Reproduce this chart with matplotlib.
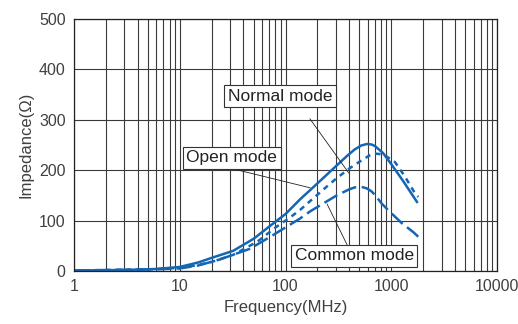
import matplotlib
matplotlib.use("Agg")
import matplotlib.pyplot as plt
from matplotlib.ticker import LogLocator, NullFormatter, FixedLocator

plt.rcParams['font.family'] = ['Liberation Sans', 'DejaVu Sans']

# frequency (MHz) / impedance (ohm)
open_f = [1, 3, 6, 10, 15, 20, 32, 50, 74, 100, 137, 170, 226, 300, 380, 450, 520, 590, 650, 700, 836, 1000, 1300, 1750]
open_z = [1, 2, 4, 8, 17, 26, 40, 64, 92, 113, 142, 160, 184, 208, 228, 241, 249, 252, 251, 248, 234, 212, 178, 137]

normal_f = [1, 5, 10, 15, 20, 32, 54, 80, 110, 137, 226, 300, 405, 511, 620, 702, 850, 1085, 1349, 1678, 1800]
normal_z = [1, 3, 6, 12, 18, 32, 58, 86, 106, 121, 161, 183, 204, 218, 229, 233, 231, 216, 187, 154, 147]

common_f = [1, 5, 10, 15, 24, 46, 76, 89, 137, 170, 305, 400, 454, 520, 586, 650, 702, 810, 942, 1256, 1617, 1800]
common_z = [1, 3, 5, 11, 23, 44, 71, 80, 104, 118, 150, 162, 166, 167, 164, 158, 151, 134, 120, 95, 77, 68]

x_ticks = [1, 10, 100, 1000, 10000]
x_labels = ['1', '10', '100', '1000', '10000']
y_ticks = [0, 100, 200, 300, 400, 500]

blue = '#1565b5'
fig = plt.figure(figsize=(5.18, 3.24), dpi=100)
ax = fig.add_axes([0.1429, 0.1636, 0.8166, 0.7778])

ax.plot(open_f, open_z, color=blue, lw=1.8, solid_joinstyle='round')
ax.plot(normal_f, normal_z, color=blue, lw=1.8, linestyle=(0, (2.2, 2.0)))
ax.plot(common_f, common_z, color=blue, lw=1.8, linestyle=(0, (6.0, 2.2)))

ax.set_xscale('log')
ax.set_xlim(1, 10000)
ax.set_ylim(0, 500)
ax.xaxis.set_major_locator(FixedLocator(x_ticks))
ax.set_xticklabels(x_labels)
ax.xaxis.set_minor_locator(LogLocator(base=10, subs=range(2, 10)))
ax.xaxis.set_minor_formatter(NullFormatter())
ax.set_yticks(y_ticks)

gc = '#3a3a3a'
ax.grid(True, which='major', color=gc, lw=0.8)
ax.grid(True, which='minor', axis='x', color=gc, lw=0.8)
ax.tick_params(which='both', length=0, labelsize=11.5, colors='#404040', pad=6)
for s in ax.spines.values():
    s.set_color('#222222')
    s.set_linewidth(0.9)

ax.set_xlabel('Frequency(MHz)', fontsize=12, color='#404040', labelpad=4)
ax.set_ylabel('Impedance(Ω)', fontsize=12, color='#404040', labelpad=4)

box = dict(boxstyle='square,pad=0.2', fc='white', ec='#333333', lw=0.8)
lineprops = dict(arrowstyle='-', color='#222222', lw=0.6, shrinkA=0, shrinkB=0)

# leader lines
ax.annotate('', xy=(398, 194), xytext=(170, 302), arrowprops=lineprops)
ax.annotate('', xy=(171, 165), xytext=(30, 204), arrowprops=lineprops)
ax.annotate('', xy=(382, 52), xytext=(247, 133), arrowprops=lineprops)

ax.text(89, 347, 'Normal mode', fontsize=12.5, color='#222222', ha='center', va='center', bbox=box)
ax.text(31, 225, 'Open mode', fontsize=12.5, color='#222222', ha='center', va='center', bbox=box)
ax.text(445, 30, 'Common mode', fontsize=12.5, color='#222222', ha='center', va='center', bbox=box)

fig.savefig('out.png', dpi=100)
